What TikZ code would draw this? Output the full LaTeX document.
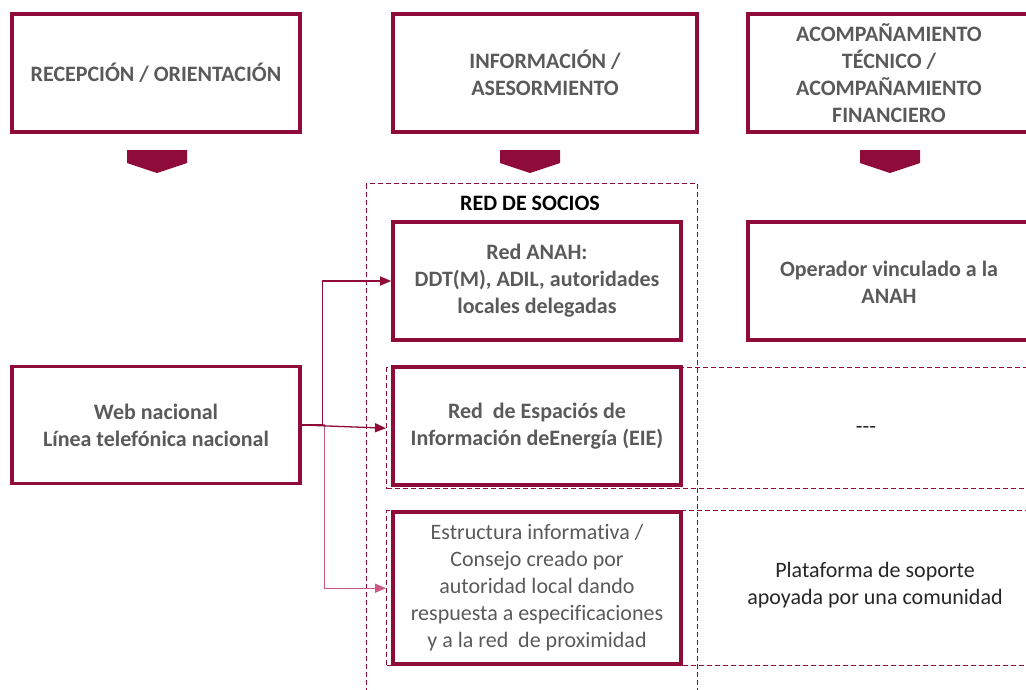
\documentclass[tikz,border=0pt]{standalone}
\usepackage{fontspec}
\setmainfont[Ligatures={NoCommon}]{Carlito}
\usetikzlibrary{arrows.meta}
\definecolor{maroon}{RGB}{143,12,58}
\definecolor{conn2col}{RGB}{200,90,130}
\definecolor{txtgray}{RGB}{90,90,90}
\tikzset{
  box/.style={draw=maroon, line width=3.6pt, fill=white, align=center,
    text=txtgray, font=\fontsize{22}{27}\selectfont\bfseries, inner sep=4pt},
  plainbox/.style={box, font=\fontsize{22}{27}\selectfont},
  dbox/.style={draw=maroon, line width=1.4pt, dash pattern=on 5pt off 3pt},
  plain/.style={align=center, text=black!85, font=\fontsize{22}{27}\selectfont},
  chev/.style={fill=maroon},
  conn/.style={draw=maroon, line width=1.3pt, -{Triangle[length=11pt,width=9pt]}},
  connb/.style={draw=conn2col, line width=1.3pt, -{Triangle[length=11pt,width=9pt]}}
}
\begin{document}
\begin{tikzpicture}[x=1pt,y=-1pt]
\useasboundingbox (0,0) rectangle (1026,689);
\clip (0,0) rectangle (1026,689);
% big dashed box
\node[dbox, minimum width=331, minimum height=530, anchor=north west] (socios) at (366,183) {};
% dashed row boxes
\node[dbox, minimum width=660, minimum height=121, anchor=north west] (row2) at (386,367) {};
\node[dbox, minimum width=660, minimum height=155, anchor=north west] (row3) at (386,510) {};
% headers
\node[box, minimum width=288, minimum height=118] (h1) at (156,73) {RECEPCIÓN / ORIENTACIÓN};
\node[box, minimum width=304, minimum height=118] (h2) at (545,73) {INFORMACIÓN /\\ASESORMIENTO};
\node[box, minimum width=290, minimum height=118, anchor=west] (h3) at (746,73) {};
\node[align=center, text=txtgray, font=\fontsize{22}{27}\selectfont\bfseries] (h3t) at (889,73) {ACOMPAÑAMIENTO\\TÉCNICO /\\ACOMPAÑAMIENTO\\FINANCIERO};
% chevrons
\fill[chev] (127,150) -- (187,150) -- (187,163) -- (157,173) -- (127,163) -- cycle;
\fill[chev] (500,150) -- (560,150) -- (560,163) -- (530,173) -- (500,163) -- cycle;
\fill[chev] (860,150) -- (920,150) -- (920,163) -- (890,173) -- (860,163) -- cycle;
% red de socios
\node[font=\fontsize{22}{27}\selectfont\bfseries, text=black] (rs) at (530,203) {RED DE SOCIOS};
\node[box, minimum width=288, minimum height=118] (anah) at (537,281) {Red ANAH:\\DDT(M), ADIL, autoridades\\locales delegadas};
\node[box, minimum width=288, minimum height=118] (eie) at (537,426) {Red \ de Espaciós de\\Información deEnergía (EIE)};
\node[plainbox, minimum width=288, minimum height=152] (estr) at (537,588) {Estructura informativa /\\Consejo creado por\\autoridad local dando\\respuesta a especificaciones\\y a la red \ de proximidad};
% right column
\node[box, minimum width=290, minimum height=118, anchor=west] (oper) at (746,281) {};
\node[align=center, text=txtgray, font=\fontsize{22}{27}\selectfont\bfseries] (opert) at (889,282) {Operador vinculado a la\\ANAH};
\node[plain] (dash3) at (866,430) {-{}-{}-};
\node[plain] (plat) at (875,585) {Plataforma de soporte\\apoyada por una comunidad};
% left
\node[box, minimum width=288, minimum height=117] (web) at (156,425) {Web nacional\\Línea telefónica nacional};
% connectors
\draw[connb] (web.east) -- ++(23,0) |- (row3.west);
\draw[conn] (web.east) -- ++(21,0) |- (anah.west);
\draw[conn] (web.east) -- (row2.west);
\end{tikzpicture}
\end{document}
